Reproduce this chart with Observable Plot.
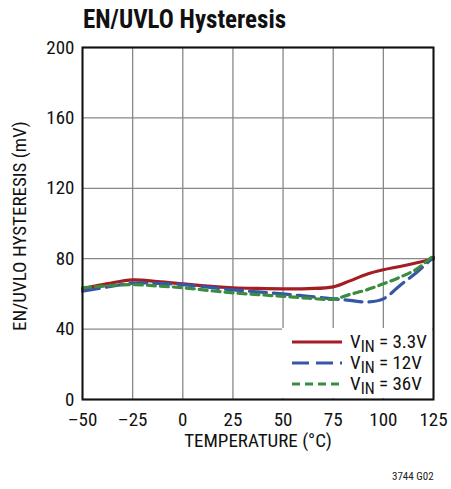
<!DOCTYPE html>
<html><head><meta charset="utf-8">
<script src="https://cdn.jsdelivr.net/npm/d3@7"></script>
<script src="https://cdn.jsdelivr.net/npm/@observablehq/plot@0.6"></script>
<style>
body{margin:0;background:#fff;}
#wrap{position:relative;width:451px;height:489px;font-family:"Liberation Sans Narrow","Roboto Condensed","Liberation Sans",sans-serif;}
#title{position:absolute;left:83px;top:5px;font-size:25px;font-weight:bold;color:#111;}
#code{position:absolute;left:392px;top:470px;font-size:11px;color:#222;}
</style></head>
<body><div id="wrap"><div id="chart"></div><div id="title">EN/UVLO Hysteresis</div><div id="code">3744 G02</div></div>
<script>
const temps = [-50, -37.5, -25, -12.5, 0, 12.5, 25, 37.5, 50, 62.5, 75, 83.3, 91.7, 100, 108.3, 116.7, 125];
const v33 = [62.9, 65.8, 68.0, 67.0, 65.7, 64.4, 63.5, 63.1, 62.9, 63.0, 64.0, 67.4, 71.2, 73.7, 75.6, 77.7, 79.9];
const v12 = [61.5, 63.9, 66.1, 66.0, 65.3, 63.8, 62.3, 61.1, 60.0, 58.6, 57.2, 56.3, 55.4, 57.2, 64.8, 72.3, 80.9];
const v36 = [63.5, 64.6, 65.3, 64.5, 63.5, 62.0, 60.6, 59.6, 58.6, 57.6, 57.0, 59.7, 62.3, 65.7, 69.5, 74.2, 81.8];
const seriesNames = ["3.3V", "12V", "36V"];
const colors = ["#a51d24", "#3656a6", "#3a8c3f"];
const dashes = [null, "17,7", "8,5"];
const xTicks = [-50, -25, 0, 25, 50, 75, 100, 125];
const yTicks = [0, 40, 80, 120, 160, 200];

const seriesVals = [v33, v12, v36];
const data = [];
seriesNames.forEach((s, i) => temps.forEach((t, j) => data.push({s, t, v: seriesVals[i][j]})));

const FONT = '"Liberation Sans Narrow","Roboto Condensed","Liberation Sans",sans-serif';
const fmtX = d => d < 0 ? "\u2013" + Math.abs(d) : String(d);

const plot = Plot.plot({
  width: 451, height: 489,
  marginLeft: 82, marginRight: 18, marginTop: 47, marginBottom: 90,
  style: {fontFamily: FONT, fontSize: "19px", color: "#111", background: "#fff"},
  x: {domain: [-50, 125], label: null},
  y: {domain: [0, 200], label: null},
  marks: [
    Plot.gridX(xTicks, {stroke: "#888", strokeOpacity: 1, strokeWidth: 1.3}),
    Plot.gridY(yTicks, {stroke: "#888", strokeOpacity: 1, strokeWidth: 1.3}),
    ...seriesNames.map((s, i) => Plot.line(data.filter(d => d.s === s), {
      x: "t", y: "v", stroke: colors[i], strokeWidth: 3.2, curve: "catmull-rom",
      strokeDasharray: dashes[i]
    })),
    Plot.axisX({ticks: xTicks, tickSize: 0, tickPadding: 13, tickFormat: fmtX, label: null, fontSize: 19}),
    Plot.axisY({ticks: yTicks, tickSize: 0, tickPadding: 8, label: null, fontSize: 19}),
    Plot.frame({stroke: "#111", strokeWidth: 2})
  ]
});
document.getElementById("chart").appendChild(plot);

const svg = d3.select(plot);
const lg = svg.append("g").attr("text-anchor", "start");
lg.append("rect").attr("x", 282).attr("y", 328).attr("width", 150).attr("height", 70).attr("fill", "#fff");
const labels = ["3.3V", "12V", "36V"];
labels.forEach((lab, i) => {
  const y = 342 + i * 21;
  lg.append("line").attr("x1", 292).attr("x2", 342).attr("y1", y).attr("y2", y)
    .attr("stroke", colors[i]).attr("stroke-width", 3.2).attr("stroke-dasharray", dashes[i]);
  const t = lg.append("text").attr("x", 350).attr("y", y + 6).attr("font-size", 19).attr("fill", "#111").attr("text-anchor", "start");
  t.append("tspan").text("V");
  t.append("tspan").attr("dy", 4).attr("font-size", 16).text("IN");
  t.append("tspan").attr("dy", -4).text(" = " + lab);
});
svg.append("text").attr("x", 258).attr("y", 447).attr("text-anchor", "middle").attr("font-size", 19).attr("fill", "#111").text("TEMPERATURE (°C)");
svg.append("text").attr("transform", "translate(26,226) rotate(-90)").attr("text-anchor", "middle").attr("font-size", 19).attr("fill", "#111").text("EN/UVLO HYSTERESIS (mV)");
</script>
</body></html>
